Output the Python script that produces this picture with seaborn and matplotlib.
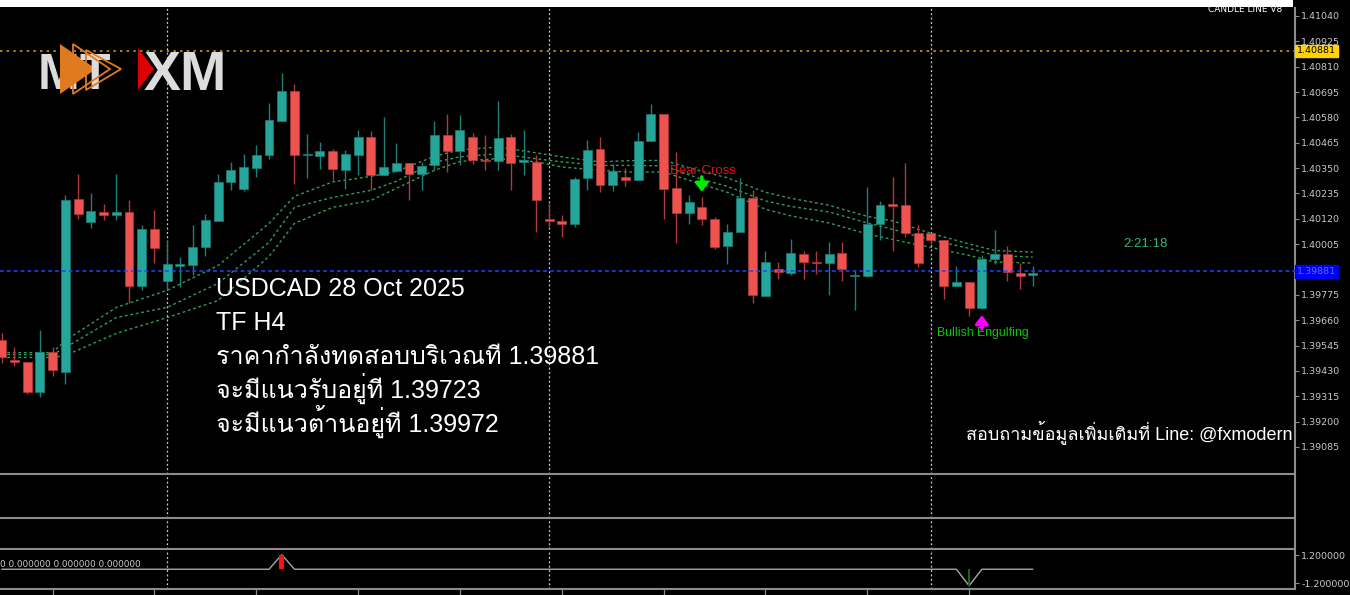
import numpy as np
import pandas as pd
import matplotlib
matplotlib.use("Agg")
import matplotlib.pyplot as plt
import seaborn as sns
from matplotlib import font_manager
from matplotlib.ft2font import FT2Font
from matplotlib.patches import Polygon, Rectangle
import matplotlib.transforms as mtransforms

# ---------------- data ----------------
opens = [1.39568, 1.39480, 1.39469, 1.39333, 1.39515, 1.39427, 1.40211, 1.40105, 1.40150, 1.40135,
         1.40150, 1.39816, 1.40072, 1.39840, 1.39907, 1.39911, 1.39991, 1.40108, 1.40286, 1.40257,
         1.40352, 1.40408, 1.40563, 1.40698, 1.40411, 1.40405, 1.40427, 1.40340, 1.40408, 1.40491,
         1.40320, 1.40336, 1.40375, 1.40321, 1.40362, 1.40498, 1.40427, 1.40491, 1.40388, 1.40382,
         1.40491, 1.40379, 1.40377, 1.40120, 1.40109, 1.40098, 1.40306, 1.40438, 1.40271, 1.40309,
         1.40295, 1.40471, 1.40594, 1.40259, 1.40147, 1.40173, 1.40120, 1.39995, 1.40059, 1.40214,
         1.39769, 1.39890, 1.39876, 1.39961, 1.39926, 1.39919, 1.39966, 1.39860, 1.39860, 1.40098,
         1.40188, 1.40181, 1.40057, 1.40057, 1.40025, 1.39817, 1.39832, 1.39716, 1.39936, 1.39958,
         1.39873, 1.39864]
highs = [1.39604, 1.39537, 1.39469, 1.39616, 1.39537, 1.40229, 1.40321, 1.40238, 1.40188, 1.40321,
         1.40207, 1.40090, 1.40158, 1.40022, 1.39946, 1.40090, 1.40143, 1.40321, 1.40377, 1.40415,
         1.40453, 1.40645, 1.40783, 1.40730, 1.40503, 1.40468, 1.40438, 1.40434, 1.40524, 1.40517,
         1.40582, 1.40464, 1.40375, 1.40377, 1.40563, 1.40594, 1.40589, 1.40509, 1.40498, 1.40654,
         1.40506, 1.40521, 1.40408, 1.40191, 1.40135, 1.40309, 1.40476, 1.40491, 1.40370, 1.40352,
         1.40513, 1.40642, 1.40594, 1.40423, 1.40226, 1.40218, 1.40128, 1.40098, 1.40306, 1.40249,
         1.39973, 1.39923, 1.40030, 1.39976, 1.39976, 1.40014, 1.40014, 1.39886, 1.40264, 1.40199,
         1.40309, 1.40373, 1.40094, 1.40057, 1.40025, 1.39908, 1.39832, 1.39954, 1.40070, 1.39995,
         1.39919, 1.39908]
lows = [1.39468, 1.39454, 1.39326, 1.39310, 1.39409, 1.39371, 1.40120, 1.40078, 1.40116, 1.40113,
        1.39737, 1.39798, 1.39919, 1.39795, 1.39810, 1.39863, 1.39949, 1.40108, 1.40249, 1.40246,
        1.40309, 1.40393, 1.40563, 1.40279, 1.40305, 1.40347, 1.40295, 1.40257, 1.40317, 1.40249,
        1.40320, 1.40332, 1.40203, 1.40249, 1.40340, 1.40332, 1.40362, 1.40370, 1.40340, 1.40340,
        1.40249, 1.40317, 1.40059, 1.40082, 1.40037, 1.40082, 1.40249, 1.40241, 1.40246, 1.40267,
        1.40295, 1.40471, 1.40120, 1.40011, 1.40098, 1.40090, 1.39984, 1.39913, 1.40059, 1.39737,
        1.39769, 1.39848, 1.39863, 1.39848, 1.39871, 1.39772, 1.39840, 1.39707, 1.39855, 1.40022,
        1.39976, 1.40037, 1.39901, 1.40007, 1.39757, 1.39817, 1.39678, 1.39712, 1.39913, 1.39840,
        1.39803, 1.39817]
closes = [1.39491, 1.39469, 1.39333, 1.39515, 1.39432, 1.40207, 1.40143, 1.40153, 1.40135, 1.40150,
          1.39816, 1.40072, 1.39987, 1.39913, 1.39913, 1.39991, 1.40113, 1.40288, 1.40340, 1.40355,
          1.40408, 1.40570, 1.40698, 1.40408, 1.40414, 1.40427, 1.40344, 1.40415, 1.40491, 1.40317,
          1.40355, 1.40375, 1.40321, 1.40359, 1.40498, 1.40427, 1.40521, 1.40385, 1.40382, 1.40488,
          1.40373, 1.40385, 1.40207, 1.40109, 1.40098, 1.40302, 1.40434, 1.40271, 1.40335, 1.40297,
          1.40473, 1.40594, 1.40257, 1.40146, 1.40196, 1.40120, 1.39991, 1.40059, 1.40214, 1.39772,
          1.39923, 1.39878, 1.39963, 1.39926, 1.39919, 1.39961, 1.39893, 1.39863, 1.40098, 1.40181,
          1.40179, 1.40055, 1.39919, 1.40025, 1.39817, 1.39832, 1.39716, 1.39939, 1.39958, 1.39878,
          1.39861, 1.39876]

ma_idx = [0, 4, 5, 9, 13, 17, 21, 23, 26, 29, 31, 34, 36, 39, 42, 44, 47, 49, 52, 55,
          57, 60, 62, 65, 68, 70, 73, 76, 78, 81]
ma_upper = [1.39513, 1.39513, 1.39568, 1.39718, 1.39795, 1.39908, 1.40099, 1.40222, 1.40287, 1.40312,
            1.40335, 1.40403, 1.40433, 1.40445, 1.40419, 1.40401, 1.40378, 1.40383, 1.40385, 1.40335,
            1.40306, 1.40240, 1.40213, 1.40181, 1.40131, 1.40110, 1.40054, 1.40006, 1.39976, 1.39969]
ma_middle = [1.39504, 1.39504, 1.39536, 1.39672, 1.39718, 1.39827, 1.40013, 1.40172, 1.40217, 1.40249,
             1.40290, 1.40376, 1.40401, 1.40415, 1.40392, 1.40378, 1.40362, 1.40362, 1.40360, 1.40299,
             1.40267, 1.40201, 1.40176, 1.40151, 1.40101, 1.40072, 1.40024, 1.39986, 1.39954, 1.39946]
ma_lower = [1.39491, 1.39491, 1.39500, 1.39600, 1.39672, 1.39749, 1.39949, 1.40099, 1.40172, 1.40203,
            1.40258, 1.40340, 1.40380, 1.40393, 1.40378, 1.40355, 1.40340, 1.40332, 1.40332, 1.40276,
            1.40240, 1.40163, 1.40133, 1.40101, 1.40051, 1.40026, 1.39990, 1.39954, 1.39924, 1.39919]

indicator = [0, 0, 0, 0, 0, 0, 0, 0, 0, 0, 0, 0, 0, 0, 0, 0, 0, 0, 0, 0,
             0, 0, 1.25, 0, 0, 0, 0, 0, 0, 0, 0, 0, 0, 0, 0, 0, 0, 0, 0, 0,
             0, 0, 0, 0, 0, 0, 0, 0, 0, 0, 0, 0, 0, 0, 0, 0, 0, 0, 0, 0,
             0, 0, 0, 0, 0, 0, 0, 0, 0, 0, 0, 0, 0, 0, 0, 0, -1.42, 0, 0, 0,
             0, 0]

price_ticks = [1.41040, 1.40925, 1.40810, 1.40695, 1.40580, 1.40465, 1.40350, 1.40235, 1.40120,
               1.40005, 1.39890, 1.39775, 1.39660, 1.39545, 1.39430, 1.39315, 1.39200, 1.39085]
bid_price = 1.39881
level_price = 1.40881
separator_idx = [13, 43, 73]
time_tick_idx = [4, 12, 20, 28, 36, 44, 52, 60, 68, 76]
time_tick_labels = ["9 Oct 12:00", "10 Oct 20:00", "14 Oct 04:00", "15 Oct 12:00", "16 Oct 20:00",
                    "20 Oct 04:00", "21 Oct 12:00", "22 Oct 20:00", "24 Oct 04:00", "27 Oct 12:00"]

sig_idx = [55, 77]
sig_tail = [1.40310, 1.39620]
sig_tip = [1.40242, 1.39683]

info_lines = ["USDCAD 28 Oct 2025", "TF H4", "ราคากำลังทดสอบบริเวณที 1.39881",
              "จะมีแนวรับอยู่ที 1.39723", "จะมีแนวต้านอยู่ที 1.39972"]
contact_text = "สอบถามข้อมูลเพิ่มเติมที่ Line: @fxmodern"

# ---------------- style ----------------
sns.set_theme(style="dark", rc={"axes.facecolor": "black", "figure.facecolor": "black",
                                "axes.grid": False})


def find_thai_font():
    for f in font_manager.fontManager.ttflist:
        try:
            cm = FT2Font(f.fname).get_charmap()
        except Exception:
            continue
        if 0x0E01 in cm and 0x0E33 in cm and 0x0E48 in cm:
            return f.name
    return None


thai = find_thai_font()
fams = ["Liberation Sans"] + ([thai] if thai else []) + ["DejaVu Sans"]
plt.rcParams["font.family"] = fams

W, H = 1350, 595
fig = plt.figure(figsize=(13.5, 5.95), dpi=100)
fig.patch.set_facecolor("black")


def fx(px):
    return px / W


def fy(py):
    return 1 - py / H


AXW = 1295 / W
GRAY = "#8c8c8c"
TXT = "#c8c8c8"

ax = fig.add_axes([0, fy(474.3), AXW, (474.3 - 8) / H])
ax2 = fig.add_axes([0, fy(518.3), AXW, (518.3 - 475.5) / H], sharex=ax)
ax3 = fig.add_axes([0, fy(549.3), AXW, (549.3 - 519.5) / H], sharex=ax)
ax4 = fig.add_axes([0, fy(588.7), AXW, (588.7 - 550.5) / H], sharex=ax)

for a in (ax, ax2, ax3, ax4):
    a.set_facecolor("black")
    for s in ("top", "left"):
        a.spines[s].set_visible(False)
    for s in ("right", "bottom"):
        a.spines[s].set_visible(True)
        a.spines[s].set_color(GRAY)
        a.spines[s].set_linewidth(1.5)
    a.tick_params(axis="x", which="both", bottom=False, labelbottom=False)
    a.tick_params(axis="y", which="both", left=False, labelleft=False)
    for xi in separator_idx:
        a.axvline(xi, color="#d0d0d0", lw=0.9, ls=(0, (1.5, 2)), zorder=1)

ax.set_xlim(-0.133, 101.6)
ax.set_ylim(1.38961, 1.41076)

# candles
n = len(opens)
xs = np.arange(n)
up = [c >= o for o, c in zip(opens, closes)]
body_col = ["#26a69a" if u else "#ef5350" for u in up]
wick_col = ["#1f7f76" if u else "#b03a3a" for u in up]
ax.vlines(xs, lows, highs, colors=wick_col, lw=1.0, zorder=3)
bottoms = [min(o, c) for o, c in zip(opens, closes)]
heights = [max(abs(c - o), 0.000012) for o, c in zip(opens, closes)]
ax.bar(xs, heights, bottom=bottoms, width=0.7, color=body_col, edgecolor=wick_col,
       linewidth=0.5, zorder=4)

# moving-average envelope
for band in (ma_upper, ma_middle, ma_lower):
    sns.lineplot(x=ma_idx, y=band, ax=ax, color="#2e9e58", lw=1.0,
                 linestyle=(0, (2, 2)), zorder=2)

# horizontal levels
ax.axhline(bid_price, color="#2244ff", lw=1.1, ls=(0, (2.5, 2)), zorder=5)
ax.axhline(level_price, color="#b89b14", lw=1.2, ls=(0, (1.5, 2.5)), zorder=1)

# right price scale (1.39890 sits under the bid box, so its text is hidden)
ax.yaxis.tick_right()
ax.set_yticks(price_ticks)
ax.set_yticklabels(["" if abs(t - bid_price) < 0.0003 else f"{t:.5f}" for t in price_ticks])
ax.tick_params(axis="y", right=True, labelright=True, length=3, width=0.8, color=GRAY,
               labelcolor=TXT, labelsize=6.8, pad=1.5)
for lab in ax.get_yticklabels():
    lab.set_family("DejaVu Sans")
ax.set_xlabel("")
ax.set_ylabel("")

trans = mtransforms.blended_transform_factory(ax.transAxes, ax.transData)
ax.text(1.0015, level_price, "1.40881", transform=trans, ha="left", va="center",
        fontsize=6.8, family="DejaVu Sans", color="black", zorder=6, clip_on=False,
        bbox=dict(boxstyle="square,pad=0.18", fc="#ffd200", ec="#ffd200"))
ax.text(1.0015, bid_price, "1.39881", transform=trans, ha="left", va="center",
        fontsize=6.8, family="DejaVu Sans", color="#5070ff", zorder=6, clip_on=False,
        bbox=dict(boxstyle="square,pad=0.18", fc="#0000f0", ec="#0000f0"))

# signals
arrow_style = "-|>,head_width=0.38,head_length=0.5"
ax.annotate("", xy=(sig_idx[0], sig_tip[0]), xytext=(sig_idx[0], sig_tail[0]),
            arrowprops=dict(arrowstyle=arrow_style, color="#00ee00", lw=2.4,
                            shrinkA=0, shrinkB=0, mutation_scale=10), zorder=7)
ax.annotate("", xy=(sig_idx[1], sig_tip[1]), xytext=(sig_idx[1], sig_tail[1]),
            arrowprops=dict(arrowstyle=arrow_style, color="#ff00ff", lw=2.4,
                            shrinkA=0, shrinkB=0, mutation_scale=10), zorder=7)
ax.text(55.1, 1.40335, "Bear Cross", color="#e01010", fontsize=9.5, ha="center",
        va="center", zorder=8)
ax.text(77.05, 1.39600, "Bullish Engulfing", color="#00cc00", fontsize=8.8, ha="center",
        va="center", zorder=8)
ax.text(88.1, 1.40004, "2:21:18", color="#3cb371", fontsize=9.5, ha="left", va="center")

# indicator panel
ax2.set_ylim(0, 1)
ax3.set_ylim(0, 1)
ax4.set_ylim(-1.67, 1.61)
sns.lineplot(x=xs, y=indicator, ax=ax4, color="#a8a8a8", lw=1.0, zorder=3)
pos_x = [i for i, v in zip(xs, indicator) if v > 0]
pos_v = [v for v in indicator if v > 0]
neg_x = [i for i, v in zip(xs, indicator) if v < 0]
neg_v = [v for v in indicator if v < 0]
ax4.bar(pos_x, pos_v, width=0.4, color="#ff1010", edgecolor="none", linewidth=0, zorder=4)
ax4.bar(neg_x, neg_v, width=0.12, color="#0b6b1e", edgecolor="none", linewidth=0, zorder=4)
ax4.yaxis.tick_right()
ax4.set_yticks([1.2, -1.2])
ax4.set_yticklabels(["1.200000", "-1.200000"])
ax4.tick_params(axis="y", right=True, labelright=True, length=3, width=0.8, color=GRAY,
                labelcolor=TXT, labelsize=6.8, pad=1.5)
for lab in ax4.get_yticklabels():
    lab.set_family("DejaVu Sans")
ax4.set_xticks(time_tick_idx)
ax4.set_xticklabels(time_tick_labels)
ax4.tick_params(axis="x", bottom=True, labelbottom=True, length=4, width=0.9, color=GRAY,
                labelcolor=TXT, labelsize=6.8, pad=1.5)
for lab in ax4.get_xticklabels():
    lab.set_ha("left")
    lab.set_family("DejaVu Sans")
ax4.set_xlabel("")
ax4.set_ylabel("")
ax4.text(0.0, 0.64, "0 0.000000 0.000000 0.000000", transform=ax4.transAxes,
         fontsize=6.4, family="DejaVu Sans", color=TXT, ha="left", va="center")
ax.set_xlim(-0.133, 101.6)

# overlay texts
baselines = [296, 330, 364, 398, 432]
for line, b in zip(info_lines, baselines):
    fig.text(fx(216), fy(b), line, color="white", fontsize=18, ha="left", va="baseline",
             zorder=5)
fig.text(fx(1293), fy(439), contact_text, color="white", fontsize=13, ha="right",
         va="baseline", zorder=5)

# logo
LOGO_GRAY = "#dcdcdc"


def poly(pts, z, **kw):
    p = Polygon([(fx(a), fy(b)) for a, b in pts], closed=True, transform=fig.transFigure,
                zorder=z, **kw)
    fig.add_artist(p)
    return p


fig.text(fx(38), fy(89), "M", color=LOGO_GRAY, fontsize=36, fontweight="bold",
         ha="left", va="baseline", zorder=5)
poly([(60, 44), (60, 94), (96, 69)], 6, fc="#e07a1f", ec="none")
fig.text(fx(79), fy(89), "T", color=LOGO_GRAY, fontsize=36, fontweight="bold",
         ha="left", va="baseline", zorder=7)
poly([(73, 44), (73, 94), (110, 69)], 8, fc="none", ec="#e07a1f", lw=1.3)
poly([(86, 50), (86, 90), (121, 69)], 8, fc="none", ec="#e07a1f", lw=1.3)
poly([(138, 48), (138, 90), (154, 69)], 6, fc="#dd0000", ec="none")
fig.text(fx(144), fy(90), "XM", color=LOGO_GRAY, fontsize=40, fontweight="bold",
         ha="left", va="baseline", zorder=7)

# top strip
fig.text(fx(1282), fy(9), "CANDLE LINE V8", color="white", fontsize=6.5, ha="right",
         va="center", family="DejaVu Sans", zorder=8)
fig.add_artist(Rectangle((0, fy(7)), fx(1293), 7 / H, transform=fig.transFigure,
                         fc="white", ec="none", zorder=9))

fig.savefig("out.png", dpi=100, facecolor="black")
